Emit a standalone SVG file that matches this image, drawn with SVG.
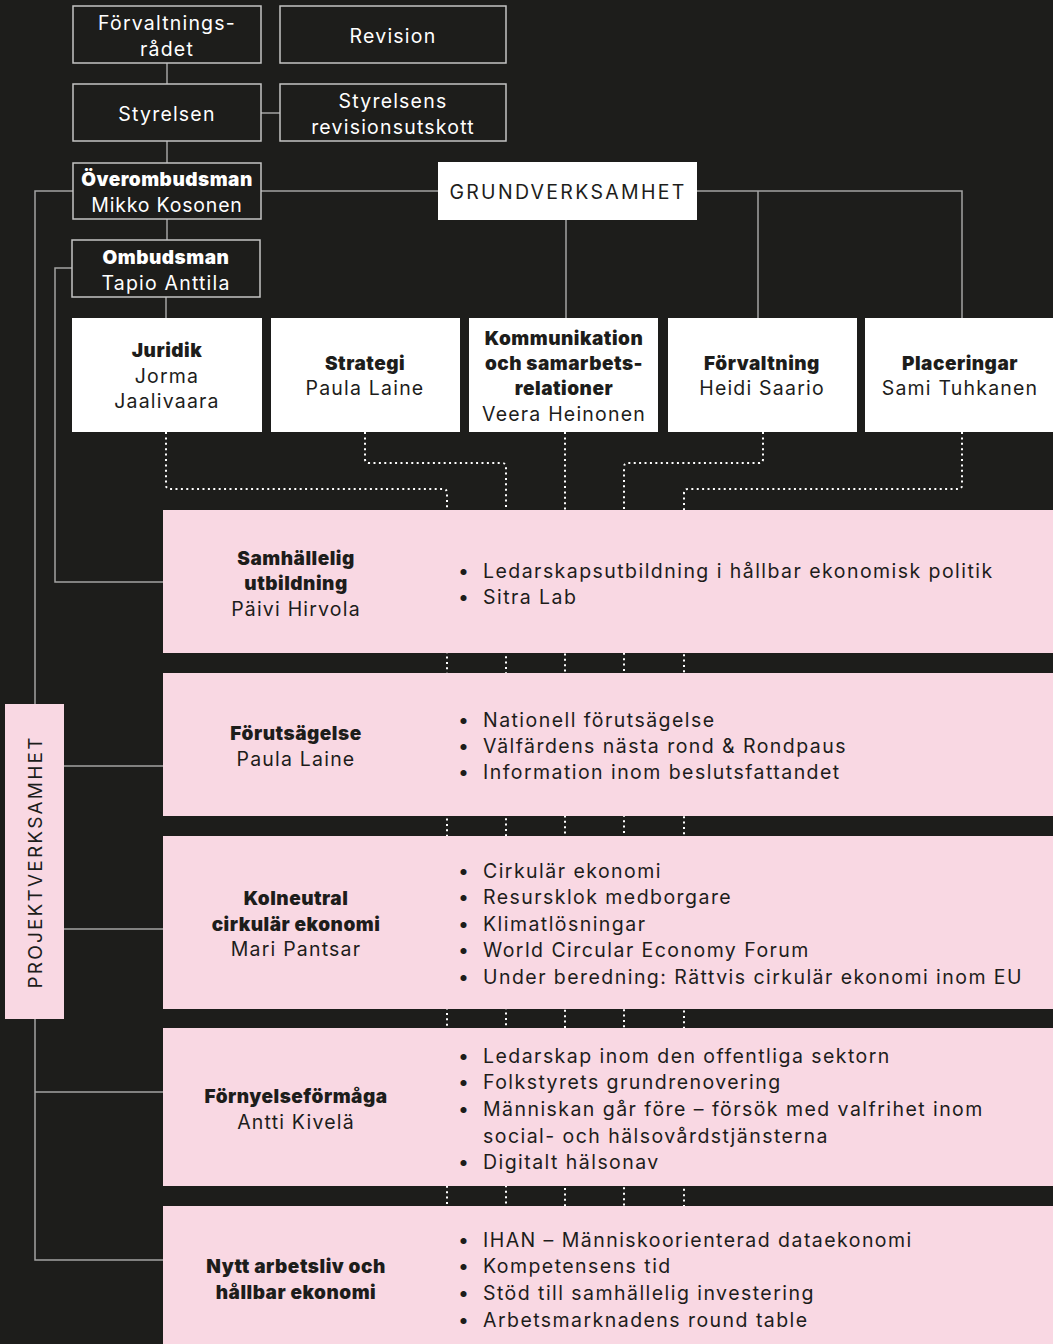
<svg xmlns="http://www.w3.org/2000/svg" width="1053" height="1344" viewBox="0 0 1053 1344">
<style>
text{font-family:Inter,"Liberation Sans",sans-serif;font-size:19.5px;letter-spacing:1.2px}
.w{fill:#ffffff}
.k{fill:#1d1d1b}
.c{text-anchor:middle}
.b{font-weight:900;font-size:19px;letter-spacing:0.5px}
.li{letter-spacing:1.45px}
.ob{fill:none;stroke:#c4c4c4;stroke-width:1.5}
.wb{fill:#ffffff}
.pk{fill:#f9d8e3}
.ln{fill:none;stroke:#a3a3a3;stroke-width:1.5}
.dt{fill:none;stroke:#ffffff;stroke-width:2;stroke-dasharray:2 3.4}
</style>
<rect x="0" y="0" width="1053" height="1344" fill="#1d1d1b"/>
<g id="connectors">
<path class="ln" d="M167 63V84M261 113H280M167 141V163M261 191H438M167 219V240M166 297V318M697 191H962V318M758 191V318M566 220V318"/>
<path class="ln" d="M73 191H35V1260H163M35 1092H163M64 766H163M64 929H163M72 268H55V582H163"/>
<path class="dt" d="M166 432V485Q166 489 170 489H443Q447 489 447 493V1210"/>
<path class="dt" d="M365 432V459Q365 463 369 463H502Q506 463 506 467V1210"/>
<path class="dt" d="M565 432V1210"/>
<path class="dt" d="M763 432V459Q763 463 759 463H628Q624 463 624 467V1210"/>
<path class="dt" d="M962 432V485Q962 489 958 489H688Q684 489 684 493V1210"/>
</g>
<g id="forvaltningsradet"><rect class="ob" x="73" y="6" width="188" height="57"/><text class="w c" x="167" y="30">Förvaltnings-</text><text class="w c" x="167" y="56">rådet</text></g>
<g id="revision"><rect class="ob" x="280" y="6" width="226" height="57"/><text class="w c" x="393" y="43">Revision</text></g>
<g id="styrelsen"><rect class="ob" x="73" y="84" width="188" height="57"/><text class="w c" x="167" y="121">Styrelsen</text></g>
<g id="revisionsutskott"><rect class="ob" x="280" y="84" width="226" height="57"/><text class="w c" x="393" y="108">Styrelsens</text><text class="w c" x="393" y="134">revisionsutskott</text></g>
<g id="overombudsman"><rect class="ob" x="73" y="163" width="188" height="56"/><text class="w c b" x="167" y="186">Överombudsman</text><text class="w c" x="167" y="212" style="letter-spacing:0.8px">Mikko Kosonen</text></g>
<g id="ombudsman"><rect class="ob" x="72" y="240" width="188" height="57"/><text class="w c b" x="166" y="264">Ombudsman</text><text class="w c" x="166" y="290">Tapio Anttila</text></g>
<g id="grundverksamhet"><rect class="wb" x="438" y="162" width="259" height="58"/><text class="k c" x="568" y="199" style="letter-spacing:2.3px">GRUNDVERKSAMHET</text></g>
<g id="juridik"><rect class="wb" x="72" y="318" width="190" height="114"/><text class="k c b" x="167" y="357">Juridik</text><text class="k c" x="167" y="383">Jorma</text><text class="k c" x="167" y="408">Jaalivaara</text></g>
<g id="strategi"><rect class="wb" x="271" y="318" width="189" height="114"/><text class="k c b" x="365" y="370">Strategi</text><text class="k c" x="365" y="395">Paula Laine</text></g>
<g id="kommunikation"><rect class="wb" x="469" y="318" width="189" height="114"/><text class="k c b" x="564" y="345">Kommunikation</text><text class="k c b" x="564" y="370">och samarbets-</text><text class="k c b" x="564" y="395">relationer</text><text class="k c" x="564" y="421">Veera Heinonen</text></g>
<g id="forvaltning"><rect class="wb" x="668" y="318" width="189" height="114"/><text class="k c b" x="762" y="370">Förvaltning</text><text class="k c" x="762" y="395">Heidi Saario</text></g>
<g id="placeringar"><rect class="wb" x="865" y="318" width="188" height="114"/><text class="k c b" x="960" y="370">Placeringar</text><text class="k c" x="960" y="395">Sami Tuhkanen</text></g>
<g id="projektverksamhet"><rect class="pk" x="5" y="704" width="59" height="315"/><text class="k c" x="0" y="0" transform="translate(42 862) rotate(-90)" style="letter-spacing:2.2px;font-size:19px">PROJEKTVERKSAMHET</text></g>
<g id="samhallelig">
<rect class="pk" x="163" y="510" width="890" height="143"/>
<text class="k c b" x="296" y="565">Samhällelig</text><text class="k c b" x="296" y="590">utbildning</text><text class="k c" x="296" y="616">Päivi Hirvola</text>
<text class="k" x="458" y="578">•</text><text class="k li" x="483" y="578">Ledarskapsutbildning i hållbar ekonomisk politik</text>
<text class="k" x="458" y="604">•</text><text class="k li" x="483" y="604">Sitra Lab</text>
</g>
<g id="forutsagelse">
<rect class="pk" x="163" y="673" width="890" height="143"/>
<text class="k c b" x="296" y="740">Förutsägelse</text><text class="k c" x="296" y="766">Paula Laine</text>
<text class="k" x="458" y="727">•</text><text class="k li" x="483" y="727">Nationell förutsägelse</text>
<text class="k" x="458" y="753">•</text><text class="k li" x="483" y="753">Välfärdens nästa rond &amp; Rondpaus</text>
<text class="k" x="458" y="779">•</text><text class="k li" x="483" y="779">Information inom beslutsfattandet</text>
</g>
<g id="kolneutral">
<rect class="pk" x="163" y="836" width="890" height="173"/>
<text class="k c b" x="296" y="905">Kolneutral</text><text class="k c b" x="296" y="931">cirkulär ekonomi</text><text class="k c" x="296" y="956">Mari Pantsar</text>
<text class="k" x="458" y="878">•</text><text class="k li" x="483" y="878">Cirkulär ekonomi</text>
<text class="k" x="458" y="904">•</text><text class="k li" x="483" y="904">Resursklok medborgare</text>
<text class="k" x="458" y="931">•</text><text class="k li" x="483" y="931">Klimatlösningar</text>
<text class="k" x="458" y="957">•</text><text class="k li" x="483" y="957">World Circular Economy Forum</text>
<text class="k" x="458" y="984">•</text><text class="k li" x="483" y="984">Under beredning: Rättvis cirkulär ekonomi inom EU</text>
</g>
<g id="fornyelseformaga">
<rect class="pk" x="163" y="1028" width="890" height="158"/>
<text class="k c b" x="296" y="1103">Förnyelseförmåga</text><text class="k c" x="296" y="1129">Antti Kivelä</text>
<text class="k" x="458" y="1063">•</text><text class="k li" x="483" y="1063">Ledarskap inom den offentliga sektorn</text>
<text class="k" x="458" y="1089">•</text><text class="k li" x="483" y="1089">Folkstyrets grundrenovering</text>
<text class="k" x="458" y="1116">•</text><text class="k li" x="483" y="1116">Människan går före – försök med valfrihet inom</text>
<text class="k li" x="483" y="1143">social- och hälsovårdstjänsterna</text>
<text class="k" x="458" y="1169">•</text><text class="k li" x="483" y="1169">Digitalt hälsonav</text>
</g>
<g id="nytt-arbetsliv">
<rect class="pk" x="163" y="1206" width="890" height="138"/>
<text class="k c b" x="296" y="1273">Nytt arbetsliv och</text><text class="k c b" x="296" y="1299">hållbar ekonomi</text>
<text class="k" x="458" y="1247">•</text><text class="k li" x="483" y="1247">IHAN – Människoorienterad dataekonomi</text>
<text class="k" x="458" y="1273">•</text><text class="k li" x="483" y="1273">Kompetensens tid</text>
<text class="k" x="458" y="1300">•</text><text class="k li" x="483" y="1300">Stöd till samhällelig investering</text>
<text class="k" x="458" y="1327">•</text><text class="k li" x="483" y="1327">Arbetsmarknadens round table</text>
</g>
</svg>
